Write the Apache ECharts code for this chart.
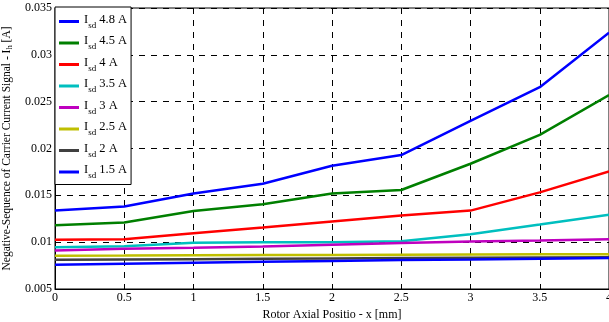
<!DOCTYPE html>
<html>
<head>
<meta charset="utf-8">
<script src="https://cdn.jsdelivr.net/npm/echarts@6/dist/echarts.min.js"></script>
<style>
  html, body { margin: 0; padding: 0; background: #fff; }
  #chart { width: 609px; height: 322px; }
</style>
</head>
<body>
<div id="chart"></div>
<script>
const positions = [0, 0.5, 1, 1.5, 2, 2.5, 3, 3.5, 4];

const currents = ['4.8', '4.5', '4', '3.5', '3', '2.5', '2', '1.5'];
const colors = ['#0000ff', '#007f00', '#ff0000', '#00bfbf', '#bf00bf', '#bfbf00', '#404040', '#0000ff'];

const isd48 = [0.01337, 0.0138, 0.0152, 0.01624, 0.01816, 0.0193, 0.02296, 0.02654, 0.03236];
const isd45 = [0.0118, 0.0121, 0.01333, 0.01404, 0.0152, 0.01557, 0.01837, 0.02146, 0.02571];
const isd40 = [0.01025, 0.0103, 0.01096, 0.01156, 0.0122, 0.01284, 0.01337, 0.01532, 0.01755];
const isd35 = [0.00947, 0.00957, 0.00993, 0.0100, 0.0100, 0.0101, 0.01085, 0.01188, 0.01294];
const isd30 = [0.00911, 0.0093, 0.0094, 0.00954, 0.00972, 0.0099, 0.01007, 0.01018, 0.0103];
const isd25 = [0.00855, 0.00857, 0.0086, 0.00862, 0.00864, 0.00866, 0.00868, 0.0087, 0.00872];
const isd20 = [0.00812, 0.00815, 0.00818, 0.00822, 0.00826, 0.0083, 0.00833, 0.00837, 0.0084];
const isd15 = [0.00759, 0.0077, 0.0078, 0.0079, 0.008, 0.0081, 0.00815, 0.00822, 0.0083];

const seriesValues = [isd48, isd45, isd40, isd35, isd30, isd25, isd20, isd15];

const font = '"Liberation Serif", "DejaVu Serif", serif';

const chart = echarts.init(document.getElementById('chart'));

const series = currents.map((c, i) => ({
  name: c,
  type: 'line',
  showSymbol: false,
  symbol: 'none',
  data: positions.map((x, j) => [x, seriesValues[i][j]]),
  lineStyle: { color: colors[i], width: 2.5 },
  itemStyle: { color: colors[i] },
  animation: false
}));

chart.setOption({
  animation: false,
  textStyle: { fontFamily: font },
  grid: {
    left: 55, right: 0, top: 8, bottom: 33,
    outerBoundsMode: 'none',
    containLabel: false,
    show: true, borderColor: '#000', borderWidth: 1
  },
  legend: {
    orient: 'vertical',
    left: 55, top: 7,
    backgroundColor: '#fff',
    borderColor: '#000',
    borderWidth: 1,
    padding: [6, 4, 4, 4],
    itemGap: 4.5,
    itemWidth: 20,
    itemHeight: 3,
    icon: 'rect',
    data: currents,
    formatter: name => '{i|I}{s|sd}{i| ' + name + ' A}',
    textStyle: {
      fontFamily: font,
      color: '#000',
      rich: {
        i: { fontSize: 12.5, fontFamily: font, lineHeight: 17, verticalAlign: 'top' },
        s: { fontSize: 9, fontFamily: font, padding: [8, 0, 0, 0], lineHeight: 17, verticalAlign: 'top' }
      }
    }
  },
  xAxis: {
    type: 'value',
    min: 0, max: 4, interval: 0.5,
    name: 'Rotor Axial Positio - x [mm]',
    nameLocation: 'middle',
    nameGap: 16,
    nameTextStyle: { fontFamily: font, fontSize: 12, color: '#000' },
    axisLine: { lineStyle: { color: '#000', width: 1 } },
    axisTick: { inside: true, length: 5, lineStyle: { color: '#000' } },
    axisLabel: { fontFamily: font, fontSize: 12, color: '#000', margin: 3 },
    splitLine: { show: true, lineStyle: { color: '#000', type: [6, 6], width: 1 } }
  },
  yAxis: {
    type: 'value',
    min: 0.005, max: 0.035, interval: 0.005,
    name: '{t|Negative-Sequence of Carrier Current Signal - I}{h|h}{t| [A]}',
    nameLocation: 'middle',
    nameGap: 41,
    nameTextStyle: {
      fontFamily: font, color: '#000',
      rich: {
        t: { fontSize: 11.5, fontFamily: font, color: '#000' },
        h: { fontSize: 8.5, fontFamily: font, color: '#000', padding: [6, 0, 0, 0] }
      }
    },
    axisLine: { lineStyle: { color: '#000', width: 1 } },
    axisTick: { inside: true, length: 5, lineStyle: { color: '#000' } },
    axisLabel: { fontFamily: font, fontSize: 12, color: '#000', margin: 3 },
    splitLine: { show: true, lineStyle: { color: '#000', type: [6, 6], width: 1 } }
  },
  series: series
});
</script>
</body>
</html>
